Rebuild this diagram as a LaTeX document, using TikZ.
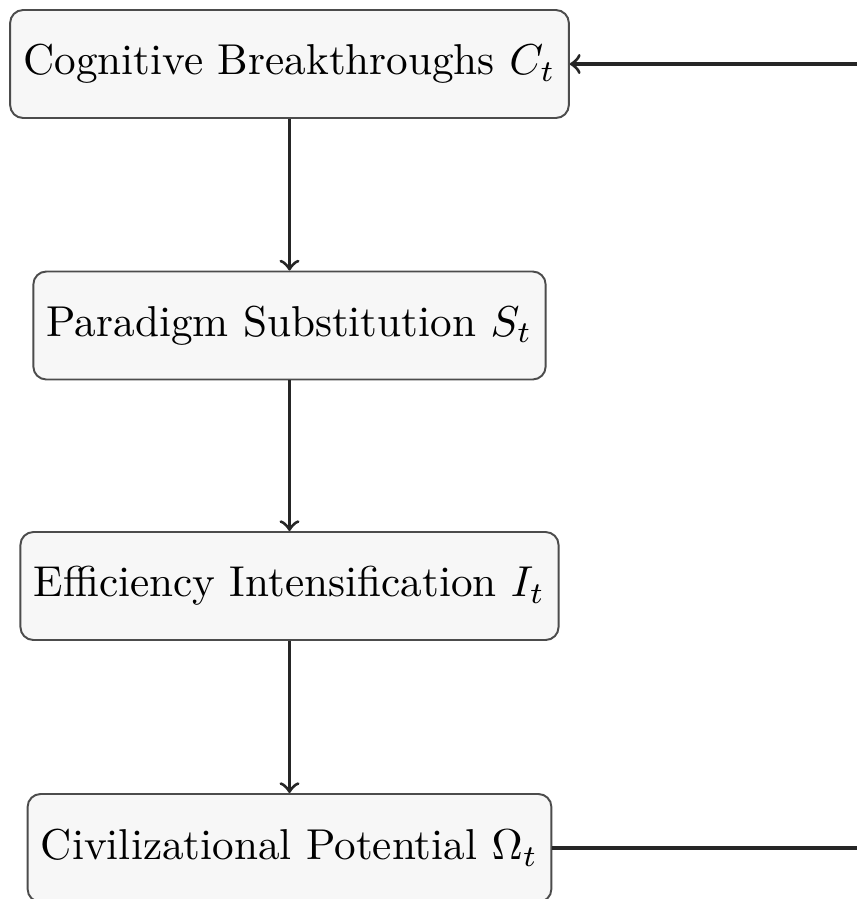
\documentclass[tikz,border=0pt]{standalone}
\usetikzlibrary{positioning}
\begin{document}
\begin{tikzpicture}[x=0.2315pt,y=-0.2315pt,
  stagebox/.style={draw=black!70, line width=0.45pt, fill=gray!6, rounded corners=3pt,
    minimum height=25pt, inner xsep=3.1pt, anchor=center},
  flow/.style={->, line width=0.75pt, black!85}]
\useasboundingbox (0,0) rectangle (857,899);
\clip (0,0) rectangle (857,899);
\node[stagebox] (c) at (289.5,64) {Cognitive Breakthroughs $C_t$};
\node[stagebox] (s) at (289.5,325.5) {Paradigm Substitution $S_t$};
\node[stagebox] (i) at (289.5,586) {Efficiency Intensification $I_t$};
\node[stagebox] (o) at (289.5,848) {Civilizational Potential $\Omega_t$};
\coordinate (rb) at (920,848);
\coordinate (rt) at (920,64);
\draw[flow] (c) -- (s);
\draw[flow] (s) -- (i);
\draw[flow] (i) -- (o);
\draw[flow] (o.east) -- (rb) -- (rt) -- (c.east);
\end{tikzpicture}
\end{document}
